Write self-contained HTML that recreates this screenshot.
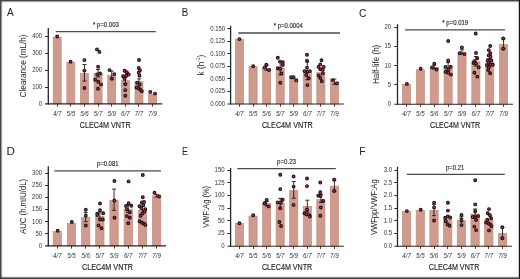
<!DOCTYPE html>
<html><head><meta charset="utf-8"><style>
html,body{margin:0;padding:0;background:#fff;}
body{width:520px;height:279px;overflow:hidden;position:relative;}
.b{position:absolute;}
svg{display:block;will-change:transform;filter:blur(0.25px);}
text{font-family:"Liberation Sans", sans-serif;fill:#222222;}
.tl{fill:#333;}
.sg{stroke:#222;stroke-width:0.12;}
.xt{stroke:#1e1e1e;stroke-width:0.14;}
circle{fill:#d83452;stroke:#1a1414;stroke-width:1.15;}
</style></head><body>
<svg width="520" height="279" viewBox="0 0 520 279">
<rect x="0" y="0" width="520" height="279" fill="#fff"/>
<rect x="53.2" y="37.15" width="8" height="66.75" fill="rgb(207,155,142)" stroke="rgb(197,140,125)" stroke-width="0.7"/>
<rect x="66.83" y="62.25" width="8" height="41.65" fill="rgb(207,155,142)" stroke="rgb(197,140,125)" stroke-width="0.7"/>
<rect x="80.46" y="73.55" width="8" height="30.35" fill="rgb(207,155,142)" stroke="rgb(197,140,125)" stroke-width="0.7"/>
<rect x="94.09" y="73.15" width="8" height="30.75" fill="rgb(207,155,142)" stroke="rgb(197,140,125)" stroke-width="0.7"/>
<rect x="107.72" y="75.45" width="8" height="28.45" fill="rgb(207,155,142)" stroke="rgb(197,140,125)" stroke-width="0.7"/>
<rect x="121.35" y="80.55" width="8" height="23.35" fill="rgb(207,155,142)" stroke="rgb(197,140,125)" stroke-width="0.7"/>
<rect x="134.98" y="81.65" width="8" height="22.25" fill="rgb(207,155,142)" stroke="rgb(197,140,125)" stroke-width="0.7"/>
<rect x="148.61" y="94.15" width="8" height="9.75" fill="rgb(207,155,142)" stroke="rgb(197,140,125)" stroke-width="0.7"/>
<path d="M84.46 64.5V81.1M82.46 64.5H86.46M82.46 81.1H86.46" stroke="#1a1a1a" stroke-width="0.9" fill="none"/>
<path d="M98.09 69.5V77M96.09 69.5H100.09M96.09 77H100.09" stroke="#1a1a1a" stroke-width="0.9" fill="none"/>
<path d="M111.72 71V79M109.72 71H113.72M109.72 79H113.72" stroke="#1a1a1a" stroke-width="0.9" fill="none"/>
<path d="M125.35 77V83.5M123.35 77H127.35M123.35 83.5H127.35" stroke="#1a1a1a" stroke-width="0.9" fill="none"/>
<path d="M138.98 78.9V84M136.98 78.9H140.98M136.98 84H140.98" stroke="#1a1a1a" stroke-width="0.9" fill="none"/>
<circle cx="57.2" cy="36.5" r="1.36"/>
<circle cx="70.6" cy="61.7" r="1.36"/>
<circle cx="84.4" cy="60.1" r="1.36"/>
<circle cx="84.4" cy="70.6" r="1.36"/>
<circle cx="84.4" cy="88" r="1.36"/>
<circle cx="97" cy="49.4" r="1.36"/>
<circle cx="99.4" cy="51.9" r="1.36"/>
<circle cx="98.1" cy="66.8" r="1.36"/>
<circle cx="97.3" cy="74.4" r="1.36"/>
<circle cx="100.1" cy="73.5" r="1.36"/>
<circle cx="95.1" cy="79.8" r="1.36"/>
<circle cx="98.2" cy="81.7" r="1.36"/>
<circle cx="101" cy="84.4" r="1.36"/>
<circle cx="98" cy="88.8" r="1.36"/>
<circle cx="109.5" cy="70.1" r="1.36"/>
<circle cx="114.3" cy="74.1" r="1.36"/>
<circle cx="111.9" cy="78.8" r="1.36"/>
<circle cx="124.6" cy="70.7" r="1.36"/>
<circle cx="126.8" cy="72.3" r="1.36"/>
<circle cx="128.7" cy="74.5" r="1.36"/>
<circle cx="123.1" cy="76.3" r="1.36"/>
<circle cx="126.2" cy="75.7" r="1.36"/>
<circle cx="124.6" cy="78.9" r="1.36"/>
<circle cx="125.3" cy="84.3" r="1.36"/>
<circle cx="125.3" cy="90.1" r="1.36"/>
<circle cx="125.3" cy="95.7" r="1.36"/>
<circle cx="139" cy="60" r="1.36"/>
<circle cx="138.7" cy="67.9" r="1.36"/>
<circle cx="139.9" cy="70.3" r="1.36"/>
<circle cx="138.7" cy="72.6" r="1.36"/>
<circle cx="139.5" cy="75.8" r="1.36"/>
<circle cx="137.2" cy="82.6" r="1.36"/>
<circle cx="139.7" cy="84.5" r="1.36"/>
<circle cx="136.5" cy="87.5" r="1.36"/>
<circle cx="138.7" cy="88.2" r="1.36"/>
<circle cx="140.3" cy="89.8" r="1.36"/>
<circle cx="141.8" cy="91.3" r="1.36"/>
<circle cx="150.3" cy="91.9" r="1.36"/>
<circle cx="155" cy="93.6" r="1.36"/>
<path d="M48.3 28V104.4" stroke="#262626" stroke-width="1.3" fill="none"/>
<path d="M45.1 103.9H162.3" stroke="#262626" stroke-width="1.1" fill="none"/>
<path d="M45.1 87.5H48.3M45.1 70.5H48.3M45.1 53.5H48.3M45.1 36.5H48.3" stroke="#262626" stroke-width="1" fill="none"/>
<path d="M57.5 103.9V106.6M70.5 103.9V106.6M84.5 103.9V106.6M98.5 103.9V106.6M111.5 103.9V106.6M125.5 103.9V106.6M138.5 103.9V106.6M152.5 103.9V106.6" stroke="#3a3a3a" stroke-width="1" fill="none"/>
<text x="42.2" y="105.75" text-anchor="end" font-size="6.6" class="tl" textLength="3.34" lengthAdjust="spacingAndGlyphs">0</text>
<text x="42.2" y="88.88" text-anchor="end" font-size="6.6" class="tl" textLength="10.02" lengthAdjust="spacingAndGlyphs">100</text>
<text x="42.2" y="72" text-anchor="end" font-size="6.6" class="tl" textLength="10.02" lengthAdjust="spacingAndGlyphs">200</text>
<text x="42.2" y="55.13" text-anchor="end" font-size="6.6" class="tl" textLength="10.02" lengthAdjust="spacingAndGlyphs">300</text>
<text x="42.2" y="38.25" text-anchor="end" font-size="6.6" class="tl" textLength="10.02" lengthAdjust="spacingAndGlyphs">400</text>
<text x="57.2" y="115.6" text-anchor="middle" font-size="6.9" class="tl" font-style="italic" textLength="8.6" lengthAdjust="spacingAndGlyphs">4/7</text>
<text x="70.83" y="115.6" text-anchor="middle" font-size="6.9" class="tl" font-style="italic" textLength="8.6" lengthAdjust="spacingAndGlyphs">5/5</text>
<text x="84.46" y="115.6" text-anchor="middle" font-size="6.9" class="tl" font-style="italic" textLength="8.6" lengthAdjust="spacingAndGlyphs">5/6</text>
<text x="98.09" y="115.6" text-anchor="middle" font-size="6.9" class="tl" font-style="italic" textLength="8.6" lengthAdjust="spacingAndGlyphs">5/7</text>
<text x="111.72" y="115.6" text-anchor="middle" font-size="6.9" class="tl" font-style="italic" textLength="8.6" lengthAdjust="spacingAndGlyphs">5/9</text>
<text x="125.35" y="115.6" text-anchor="middle" font-size="6.9" class="tl" font-style="italic" textLength="8.6" lengthAdjust="spacingAndGlyphs">6/7</text>
<text x="138.98" y="115.6" text-anchor="middle" font-size="6.9" class="tl" font-style="italic" textLength="8.6" lengthAdjust="spacingAndGlyphs">7/7</text>
<text x="152.61" y="115.6" text-anchor="middle" font-size="6.9" class="tl" font-style="italic" textLength="8.6" lengthAdjust="spacingAndGlyphs">7/9</text>
<path d="M55.7 31.6H155.8" stroke="#4a4a4a" stroke-width="1.3" fill="none"/>
<text x="93.1" y="26.9" font-size="6.3" class="sg" textLength="25.7" lengthAdjust="spacingAndGlyphs">* p=0.003</text>
<text x="79.8" y="127.7" font-size="8.8" class="xt" textLength="50.8" lengthAdjust="spacingAndGlyphs">CLEC4M VNTR</text>
<text transform="translate(26.1 65.95) rotate(-90)" x="-31.5" font-size="8.2" textLength="63" lengthAdjust="spacingAndGlyphs">Clearance (mL/h)</text>
<text transform="translate(10.35 16.45) scale(0.85 1)" text-anchor="middle" font-size="11.7">A</text>
<rect x="235.45" y="39.25" width="8.1" height="64.75" fill="rgb(207,155,142)" stroke="rgb(197,140,125)" stroke-width="0.7"/>
<rect x="249.01" y="66.45" width="8.1" height="37.55" fill="rgb(207,155,142)" stroke="rgb(197,140,125)" stroke-width="0.7"/>
<rect x="262.57" y="68.25" width="8.1" height="35.75" fill="rgb(207,155,142)" stroke="rgb(197,140,125)" stroke-width="0.7"/>
<rect x="276.13" y="67.95" width="8.1" height="36.05" fill="rgb(207,155,142)" stroke="rgb(197,140,125)" stroke-width="0.7"/>
<rect x="289.69" y="78.85" width="8.1" height="25.15" fill="rgb(207,155,142)" stroke="rgb(197,140,125)" stroke-width="0.7"/>
<rect x="303.25" y="71.85" width="8.1" height="32.15" fill="rgb(207,155,142)" stroke="rgb(197,140,125)" stroke-width="0.7"/>
<rect x="316.81" y="72.25" width="8.1" height="31.75" fill="rgb(207,155,142)" stroke="rgb(197,140,125)" stroke-width="0.7"/>
<rect x="330.37" y="81.95" width="8.1" height="22.05" fill="rgb(207,155,142)" stroke="rgb(197,140,125)" stroke-width="0.7"/>
<path d="M266.62 65.2V70.3M264.62 65.2H268.62M264.62 70.3H268.62" stroke="#1a1a1a" stroke-width="0.9" fill="none"/>
<path d="M280.18 62V74.8M278.18 62H282.18M278.18 74.8H282.18" stroke="#1a1a1a" stroke-width="0.9" fill="none"/>
<path d="M307.3 62V79.8M305.3 62H309.3M305.3 79.8H309.3" stroke="#1a1a1a" stroke-width="0.9" fill="none"/>
<path d="M334.42 79V84.3M332.42 79H336.42M332.42 84.3H336.42" stroke="#1a1a1a" stroke-width="0.9" fill="none"/>
<circle cx="239.4" cy="39.1" r="1.36"/>
<circle cx="253.2" cy="66.3" r="1.36"/>
<circle cx="264.5" cy="67.6" r="1.36"/>
<circle cx="266.3" cy="64.8" r="1.36"/>
<circle cx="269.1" cy="70.1" r="1.36"/>
<circle cx="277.8" cy="57.8" r="1.36"/>
<circle cx="280" cy="61.6" r="1.36"/>
<circle cx="282.8" cy="62.3" r="1.36"/>
<circle cx="282.8" cy="65.1" r="1.36"/>
<circle cx="277.8" cy="68.2" r="1.36"/>
<circle cx="280.3" cy="68.8" r="1.36"/>
<circle cx="281.5" cy="73.5" r="1.36"/>
<circle cx="280.3" cy="82.8" r="1.36"/>
<circle cx="291.1" cy="77.3" r="1.36"/>
<circle cx="293.6" cy="77.3" r="1.36"/>
<circle cx="296.3" cy="80.4" r="1.36"/>
<circle cx="307" cy="54.8" r="1.36"/>
<circle cx="307" cy="60.7" r="1.36"/>
<circle cx="307" cy="67.6" r="1.36"/>
<circle cx="304.5" cy="71.1" r="1.36"/>
<circle cx="307.4" cy="71.6" r="1.36"/>
<circle cx="309.9" cy="71.1" r="1.36"/>
<circle cx="306.2" cy="75" r="1.36"/>
<circle cx="308.7" cy="78.2" r="1.36"/>
<circle cx="307.4" cy="85.1" r="1.36"/>
<circle cx="321.5" cy="60.3" r="1.36"/>
<circle cx="320.3" cy="64.4" r="1.36"/>
<circle cx="318.5" cy="66.9" r="1.36"/>
<circle cx="323.7" cy="66.9" r="1.36"/>
<circle cx="320.3" cy="69.2" r="1.36"/>
<circle cx="322.8" cy="69.9" r="1.36"/>
<circle cx="322.8" cy="73.4" r="1.36"/>
<circle cx="318.7" cy="75.5" r="1.36"/>
<circle cx="320.3" cy="78" r="1.36"/>
<circle cx="321.8" cy="81.3" r="1.36"/>
<circle cx="332.3" cy="80.1" r="1.36"/>
<circle cx="336.9" cy="83.4" r="1.36"/>
<path d="M230.6 25.7V104.5" stroke="#262626" stroke-width="1.3" fill="none"/>
<path d="M227.4 104H343.9" stroke="#262626" stroke-width="1.1" fill="none"/>
<path d="M227.4 91.5H230.6M227.4 78.5H230.6M227.4 66.5H230.6M227.4 53.5H230.6M227.4 41.5H230.6M227.4 28.5H230.6" stroke="#262626" stroke-width="1" fill="none"/>
<path d="M239.5 104V106.7M253.5 104V106.7M266.5 104V106.7M280.5 104V106.7M293.5 104V106.7M307.5 104V106.7M320.5 104V106.7M334.5 104V106.7" stroke="#3a3a3a" stroke-width="1" fill="none"/>
<text x="225.2" y="105.85" text-anchor="end" font-size="6.6" class="tl" textLength="15.03" lengthAdjust="spacingAndGlyphs">0.000</text>
<text x="225.2" y="93.33" text-anchor="end" font-size="6.6" class="tl" textLength="15.03" lengthAdjust="spacingAndGlyphs">0.025</text>
<text x="225.2" y="80.82" text-anchor="end" font-size="6.6" class="tl" textLength="15.03" lengthAdjust="spacingAndGlyphs">0.050</text>
<text x="225.2" y="68.3" text-anchor="end" font-size="6.6" class="tl" textLength="15.03" lengthAdjust="spacingAndGlyphs">0.075</text>
<text x="225.2" y="55.78" text-anchor="end" font-size="6.6" class="tl" textLength="15.03" lengthAdjust="spacingAndGlyphs">0.100</text>
<text x="225.2" y="43.27" text-anchor="end" font-size="6.6" class="tl" textLength="15.03" lengthAdjust="spacingAndGlyphs">0.125</text>
<text x="225.2" y="30.75" text-anchor="end" font-size="6.6" class="tl" textLength="15.03" lengthAdjust="spacingAndGlyphs">0.150</text>
<text x="239.5" y="116" text-anchor="middle" font-size="6.9" class="tl" font-style="italic" textLength="8.6" lengthAdjust="spacingAndGlyphs">4/7</text>
<text x="253.06" y="116" text-anchor="middle" font-size="6.9" class="tl" font-style="italic" textLength="8.6" lengthAdjust="spacingAndGlyphs">5/5</text>
<text x="266.62" y="116" text-anchor="middle" font-size="6.9" class="tl" font-style="italic" textLength="8.6" lengthAdjust="spacingAndGlyphs">5/6</text>
<text x="280.18" y="116" text-anchor="middle" font-size="6.9" class="tl" font-style="italic" textLength="8.6" lengthAdjust="spacingAndGlyphs">5/7</text>
<text x="293.74" y="116" text-anchor="middle" font-size="6.9" class="tl" font-style="italic" textLength="8.6" lengthAdjust="spacingAndGlyphs">5/9</text>
<text x="307.3" y="116" text-anchor="middle" font-size="6.9" class="tl" font-style="italic" textLength="8.6" lengthAdjust="spacingAndGlyphs">6/7</text>
<text x="320.86" y="116" text-anchor="middle" font-size="6.9" class="tl" font-style="italic" textLength="8.6" lengthAdjust="spacingAndGlyphs">7/7</text>
<text x="334.42" y="116" text-anchor="middle" font-size="6.9" class="tl" font-style="italic" textLength="8.6" lengthAdjust="spacingAndGlyphs">7/9</text>
<path d="M238.3 33H340" stroke="#4a4a4a" stroke-width="1.3" fill="none"/>
<text x="273.8" y="28.1" font-size="6.3" class="sg" textLength="29" lengthAdjust="spacingAndGlyphs">* p=0.0004</text>
<text x="261.9" y="127.5" font-size="8.8" class="xt" textLength="50.85" lengthAdjust="spacingAndGlyphs">CLEC4M VNTR</text>
<text transform="translate(203.6 65.1) rotate(-90)" text-anchor="middle" font-size="8.2">k (h<tspan font-size="4.8" dy="-3.3">-1</tspan><tspan dy="3.3">)</tspan></text>
<text transform="translate(184.95 16.45) scale(0.84 1)" text-anchor="middle" font-size="11.7">B</text>
<rect x="402.45" y="84.45" width="8.1" height="19.75" fill="rgb(207,155,142)" stroke="rgb(197,140,125)" stroke-width="0.7"/>
<rect x="416.32" y="69.75" width="8.1" height="34.45" fill="rgb(207,155,142)" stroke="rgb(197,140,125)" stroke-width="0.7"/>
<rect x="430.19" y="67.35" width="8.1" height="36.85" fill="rgb(207,155,142)" stroke="rgb(197,140,125)" stroke-width="0.7"/>
<rect x="444.06" y="66.85" width="8.1" height="37.35" fill="rgb(207,155,142)" stroke="rgb(197,140,125)" stroke-width="0.7"/>
<rect x="457.93" y="52.25" width="8.1" height="51.95" fill="rgb(207,155,142)" stroke="rgb(197,140,125)" stroke-width="0.7"/>
<rect x="471.8" y="61.85" width="8.1" height="42.35" fill="rgb(207,155,142)" stroke="rgb(197,140,125)" stroke-width="0.7"/>
<rect x="485.67" y="62.25" width="8.1" height="41.95" fill="rgb(207,155,142)" stroke="rgb(197,140,125)" stroke-width="0.7"/>
<rect x="499.54" y="44.65" width="8.1" height="59.55" fill="rgb(207,155,142)" stroke="rgb(197,140,125)" stroke-width="0.7"/>
<path d="M434.24 65.1V69M432.24 65.1H436.24M432.24 69H436.24" stroke="#1a1a1a" stroke-width="0.9" fill="none"/>
<path d="M448.11 62.6V70M446.11 62.6H450.11M446.11 70H450.11" stroke="#1a1a1a" stroke-width="0.9" fill="none"/>
<path d="M461.98 49.8V54M459.98 49.8H463.98M459.98 54H463.98" stroke="#1a1a1a" stroke-width="0.9" fill="none"/>
<path d="M475.85 56.5V66M473.85 56.5H477.85M473.85 66H477.85" stroke="#1a1a1a" stroke-width="0.9" fill="none"/>
<path d="M489.72 58.5V65M487.72 58.5H491.72M487.72 65H491.72" stroke="#1a1a1a" stroke-width="0.9" fill="none"/>
<path d="M503.59 38.5V48.8M501.59 38.5H505.59M501.59 48.8H505.59" stroke="#1a1a1a" stroke-width="0.9" fill="none"/>
<circle cx="406.9" cy="83.9" r="1.36"/>
<circle cx="420.7" cy="68.8" r="1.36"/>
<circle cx="434.3" cy="63.8" r="1.36"/>
<circle cx="432" cy="67.4" r="1.36"/>
<circle cx="436.5" cy="69.5" r="1.36"/>
<circle cx="448.2" cy="41" r="1.36"/>
<circle cx="448.2" cy="60.4" r="1.36"/>
<circle cx="445.5" cy="66.9" r="1.36"/>
<circle cx="450.7" cy="66.8" r="1.36"/>
<circle cx="448.2" cy="69.6" r="1.36"/>
<circle cx="445.5" cy="71.9" r="1.36"/>
<circle cx="448.2" cy="72.8" r="1.36"/>
<circle cx="451" cy="74.6" r="1.36"/>
<circle cx="461.9" cy="47.4" r="1.36"/>
<circle cx="459.8" cy="53.2" r="1.36"/>
<circle cx="464.4" cy="54.1" r="1.36"/>
<circle cx="475.7" cy="33.5" r="1.36"/>
<circle cx="476" cy="52.9" r="1.36"/>
<circle cx="477.3" cy="58.2" r="1.36"/>
<circle cx="474.4" cy="61.1" r="1.36"/>
<circle cx="473.6" cy="63" r="1.36"/>
<circle cx="476" cy="63.6" r="1.36"/>
<circle cx="478.7" cy="67.3" r="1.36"/>
<circle cx="474.4" cy="72.8" r="1.36"/>
<circle cx="477.3" cy="76.6" r="1.36"/>
<circle cx="490.2" cy="46" r="1.36"/>
<circle cx="488.8" cy="50.1" r="1.36"/>
<circle cx="490.3" cy="53.2" r="1.36"/>
<circle cx="488.7" cy="55.4" r="1.36"/>
<circle cx="490.5" cy="56.6" r="1.36"/>
<circle cx="487.7" cy="60.2" r="1.36"/>
<circle cx="491.4" cy="60.5" r="1.36"/>
<circle cx="488.9" cy="62.6" r="1.36"/>
<circle cx="487" cy="65.3" r="1.36"/>
<circle cx="490.7" cy="64.8" r="1.36"/>
<circle cx="492.9" cy="64.8" r="1.36"/>
<circle cx="488.8" cy="67.6" r="1.36"/>
<circle cx="488.2" cy="70.1" r="1.36"/>
<circle cx="490.1" cy="73.2" r="1.36"/>
<circle cx="503.2" cy="38.5" r="1.36"/>
<circle cx="503.2" cy="48.8" r="1.36"/>
<path d="M397.5 24.1V104.7" stroke="#262626" stroke-width="1.3" fill="none"/>
<path d="M394.3 104.2H512.9" stroke="#262626" stroke-width="1.1" fill="none"/>
<path d="M394.3 84.5H397.5M394.3 65.5H397.5M394.3 46.5H397.5M394.3 27.5H397.5" stroke="#262626" stroke-width="1" fill="none"/>
<path d="M406.5 104.2V106.9M420.5 104.2V106.9M434.5 104.2V106.9M448.5 104.2V106.9M461.5 104.2V106.9M475.5 104.2V106.9M489.5 104.2V106.9M503.5 104.2V106.9" stroke="#3a3a3a" stroke-width="1" fill="none"/>
<text x="391.2" y="106.05" text-anchor="end" font-size="6.6" class="tl" textLength="3.34" lengthAdjust="spacingAndGlyphs">0</text>
<text x="391.2" y="86.83" text-anchor="end" font-size="6.6" class="tl" textLength="3.34" lengthAdjust="spacingAndGlyphs">5</text>
<text x="391.2" y="67.61" text-anchor="end" font-size="6.6" class="tl" textLength="6.68" lengthAdjust="spacingAndGlyphs">10</text>
<text x="391.2" y="48.39" text-anchor="end" font-size="6.6" class="tl" textLength="6.68" lengthAdjust="spacingAndGlyphs">15</text>
<text x="391.2" y="29.17" text-anchor="end" font-size="6.6" class="tl" textLength="6.68" lengthAdjust="spacingAndGlyphs">20</text>
<text x="406.5" y="115.6" text-anchor="middle" font-size="6.9" class="tl" font-style="italic" textLength="8.6" lengthAdjust="spacingAndGlyphs">4/7</text>
<text x="420.37" y="115.6" text-anchor="middle" font-size="6.9" class="tl" font-style="italic" textLength="8.6" lengthAdjust="spacingAndGlyphs">5/5</text>
<text x="434.24" y="115.6" text-anchor="middle" font-size="6.9" class="tl" font-style="italic" textLength="8.6" lengthAdjust="spacingAndGlyphs">5/6</text>
<text x="448.11" y="115.6" text-anchor="middle" font-size="6.9" class="tl" font-style="italic" textLength="8.6" lengthAdjust="spacingAndGlyphs">5/7</text>
<text x="461.98" y="115.6" text-anchor="middle" font-size="6.9" class="tl" font-style="italic" textLength="8.6" lengthAdjust="spacingAndGlyphs">5/9</text>
<text x="475.85" y="115.6" text-anchor="middle" font-size="6.9" class="tl" font-style="italic" textLength="8.6" lengthAdjust="spacingAndGlyphs">6/7</text>
<text x="489.72" y="115.6" text-anchor="middle" font-size="6.9" class="tl" font-style="italic" textLength="8.6" lengthAdjust="spacingAndGlyphs">7/7</text>
<text x="503.59" y="115.6" text-anchor="middle" font-size="6.9" class="tl" font-style="italic" textLength="8.6" lengthAdjust="spacingAndGlyphs">7/9</text>
<path d="M405.1 29.8H505.2" stroke="#4a4a4a" stroke-width="1.3" fill="none"/>
<text x="442.3" y="24.7" font-size="6.3" class="sg" textLength="25.9" lengthAdjust="spacingAndGlyphs">* p=0.019</text>
<text x="430" y="127.5" font-size="8.8" class="xt" textLength="50.25" lengthAdjust="spacingAndGlyphs">CLEC4M VNTR</text>
<text transform="translate(379.3 64.4) rotate(-90)" x="-19.7" font-size="8.2" textLength="39.4" lengthAdjust="spacingAndGlyphs">Half-life (h)</text>
<text transform="translate(362.75 16.5) scale(0.88 1)" text-anchor="middle" font-size="11.7">C</text>
<rect x="53.15" y="231.45" width="8.3" height="14.45" fill="rgb(207,155,142)" stroke="rgb(197,140,125)" stroke-width="0.7"/>
<rect x="67.34" y="223.25" width="8.3" height="22.65" fill="rgb(207,155,142)" stroke="rgb(197,140,125)" stroke-width="0.7"/>
<rect x="81.53" y="217.65" width="8.3" height="28.25" fill="rgb(207,155,142)" stroke="rgb(197,140,125)" stroke-width="0.7"/>
<rect x="95.72" y="216.45" width="8.3" height="29.45" fill="rgb(207,155,142)" stroke="rgb(197,140,125)" stroke-width="0.7"/>
<rect x="109.91" y="200.35" width="8.3" height="45.55" fill="rgb(207,155,142)" stroke="rgb(197,140,125)" stroke-width="0.7"/>
<rect x="124.1" y="209.15" width="8.3" height="36.75" fill="rgb(207,155,142)" stroke="rgb(197,140,125)" stroke-width="0.7"/>
<rect x="138.29" y="210.15" width="8.3" height="35.75" fill="rgb(207,155,142)" stroke="rgb(197,140,125)" stroke-width="0.7"/>
<rect x="152.48" y="195.85" width="8.3" height="50.05" fill="rgb(207,155,142)" stroke="rgb(197,140,125)" stroke-width="0.7"/>
<path d="M85.68 212.6V221.6M83.68 212.6H87.68M83.68 221.6H87.68" stroke="#1a1a1a" stroke-width="0.9" fill="none"/>
<path d="M99.87 212V219M97.87 212H101.87M97.87 219H101.87" stroke="#1a1a1a" stroke-width="0.9" fill="none"/>
<path d="M114.06 189.1V210.3M112.06 189.1H116.06M112.06 210.3H116.06" stroke="#1a1a1a" stroke-width="0.9" fill="none"/>
<path d="M128.25 205V212.5M126.25 205H130.25M126.25 212.5H130.25" stroke="#1a1a1a" stroke-width="0.9" fill="none"/>
<path d="M142.44 206.5V213M140.44 206.5H144.44M140.44 213H144.44" stroke="#1a1a1a" stroke-width="0.9" fill="none"/>
<path d="M156.63 194.4V197M154.63 194.4H158.63M154.63 197H158.63" stroke="#1a1a1a" stroke-width="0.9" fill="none"/>
<circle cx="57.7" cy="230.8" r="1.36"/>
<circle cx="71.8" cy="222" r="1.36"/>
<circle cx="85.8" cy="209.8" r="1.36"/>
<circle cx="85.8" cy="215.7" r="1.36"/>
<circle cx="85.8" cy="225.5" r="1.36"/>
<circle cx="100" cy="203.5" r="1.36"/>
<circle cx="100" cy="210.1" r="1.36"/>
<circle cx="97.3" cy="213.6" r="1.36"/>
<circle cx="103.2" cy="213.2" r="1.36"/>
<circle cx="97.3" cy="215.1" r="1.36"/>
<circle cx="100" cy="219.5" r="1.36"/>
<circle cx="102.8" cy="219.5" r="1.36"/>
<circle cx="98.5" cy="225.4" r="1.36"/>
<circle cx="101.5" cy="228.2" r="1.36"/>
<circle cx="114.4" cy="181" r="1.36"/>
<circle cx="114.4" cy="200.5" r="1.36"/>
<circle cx="114.5" cy="217.8" r="1.36"/>
<circle cx="128.6" cy="181.4" r="1.36"/>
<circle cx="128.6" cy="203.2" r="1.36"/>
<circle cx="126" cy="206" r="1.36"/>
<circle cx="131.3" cy="205.7" r="1.36"/>
<circle cx="126.9" cy="209.4" r="1.36"/>
<circle cx="129.8" cy="212.3" r="1.36"/>
<circle cx="126.9" cy="216.1" r="1.36"/>
<circle cx="129.8" cy="217.8" r="1.36"/>
<circle cx="128.2" cy="223.2" r="1.36"/>
<circle cx="142.8" cy="175" r="1.36"/>
<circle cx="142.8" cy="197.2" r="1.36"/>
<circle cx="141.8" cy="202.5" r="1.36"/>
<circle cx="144.1" cy="201.9" r="1.36"/>
<circle cx="143.3" cy="205.1" r="1.36"/>
<circle cx="139.5" cy="206.2" r="1.36"/>
<circle cx="141.5" cy="208.2" r="1.36"/>
<circle cx="145.3" cy="209.2" r="1.36"/>
<circle cx="144.4" cy="211.4" r="1.36"/>
<circle cx="142.6" cy="213.4" r="1.36"/>
<circle cx="140.7" cy="215.7" r="1.36"/>
<circle cx="139.6" cy="221.3" r="1.36"/>
<circle cx="141.9" cy="222.7" r="1.36"/>
<circle cx="144.1" cy="223.7" r="1.36"/>
<circle cx="145.4" cy="224.9" r="1.36"/>
<circle cx="154.5" cy="192.8" r="1.36"/>
<circle cx="159.1" cy="196.5" r="1.36"/>
<path d="M48.3 166.2V246.4" stroke="#262626" stroke-width="1.3" fill="none"/>
<path d="M45.1 245.9H166.1" stroke="#262626" stroke-width="1.1" fill="none"/>
<path d="M45.1 233.5H48.3M45.1 221.5H48.3M45.1 209.5H48.3M45.1 197.5H48.3M45.1 185.5H48.3M45.1 173.5H48.3" stroke="#262626" stroke-width="1" fill="none"/>
<path d="M57.5 245.9V248.6M71.5 245.9V248.6M85.5 245.9V248.6M99.5 245.9V248.6M114.5 245.9V248.6M128.5 245.9V248.6M142.5 245.9V248.6M156.5 245.9V248.6" stroke="#3a3a3a" stroke-width="1" fill="none"/>
<text x="42.1" y="247.75" text-anchor="end" font-size="6.6" class="tl" textLength="3.34" lengthAdjust="spacingAndGlyphs">0</text>
<text x="42.1" y="235.65" text-anchor="end" font-size="6.6" class="tl" textLength="6.68" lengthAdjust="spacingAndGlyphs">50</text>
<text x="42.1" y="223.55" text-anchor="end" font-size="6.6" class="tl" textLength="10.02" lengthAdjust="spacingAndGlyphs">100</text>
<text x="42.1" y="211.45" text-anchor="end" font-size="6.6" class="tl" textLength="10.02" lengthAdjust="spacingAndGlyphs">150</text>
<text x="42.1" y="199.35" text-anchor="end" font-size="6.6" class="tl" textLength="10.02" lengthAdjust="spacingAndGlyphs">200</text>
<text x="42.1" y="187.25" text-anchor="end" font-size="6.6" class="tl" textLength="10.02" lengthAdjust="spacingAndGlyphs">250</text>
<text x="42.1" y="175.15" text-anchor="end" font-size="6.6" class="tl" textLength="10.02" lengthAdjust="spacingAndGlyphs">300</text>
<text x="57.3" y="258" text-anchor="middle" font-size="6.9" class="tl" font-style="italic" textLength="8.6" lengthAdjust="spacingAndGlyphs">4/7</text>
<text x="71.49" y="258" text-anchor="middle" font-size="6.9" class="tl" font-style="italic" textLength="8.6" lengthAdjust="spacingAndGlyphs">5/5</text>
<text x="85.68" y="258" text-anchor="middle" font-size="6.9" class="tl" font-style="italic" textLength="8.6" lengthAdjust="spacingAndGlyphs">5/6</text>
<text x="99.87" y="258" text-anchor="middle" font-size="6.9" class="tl" font-style="italic" textLength="8.6" lengthAdjust="spacingAndGlyphs">5/7</text>
<text x="114.06" y="258" text-anchor="middle" font-size="6.9" class="tl" font-style="italic" textLength="8.6" lengthAdjust="spacingAndGlyphs">5/9</text>
<text x="128.25" y="258" text-anchor="middle" font-size="6.9" class="tl" font-style="italic" textLength="8.6" lengthAdjust="spacingAndGlyphs">6/7</text>
<text x="142.44" y="258" text-anchor="middle" font-size="6.9" class="tl" font-style="italic" textLength="8.6" lengthAdjust="spacingAndGlyphs">7/7</text>
<text x="156.63" y="258" text-anchor="middle" font-size="6.9" class="tl" font-style="italic" textLength="8.6" lengthAdjust="spacingAndGlyphs">7/9</text>
<path d="M54.4 170.8H160.9" stroke="#4a4a4a" stroke-width="1.3" fill="none"/>
<text x="96.9" y="165.8" font-size="6.3" class="sg" textLength="21.6" lengthAdjust="spacingAndGlyphs">p=0.081</text>
<text x="81.9" y="269.5" font-size="8.8" class="xt" textLength="51.2" lengthAdjust="spacingAndGlyphs">CLEC4M VNTR</text>
<text transform="translate(25.9 206.4) rotate(-90)" x="-27.6" font-size="8.2" textLength="55.2" lengthAdjust="spacingAndGlyphs">AUC (h.mIU/dL)</text>
<text transform="translate(10.6 155) scale(1.0 1)" text-anchor="middle" font-size="11.7">D</text>
<rect x="235.45" y="223.55" width="8.1" height="22.65" fill="rgb(207,155,142)" stroke="rgb(197,140,125)" stroke-width="0.7"/>
<rect x="249.01" y="216.05" width="8.1" height="30.15" fill="rgb(207,155,142)" stroke="rgb(197,140,125)" stroke-width="0.7"/>
<rect x="262.57" y="203.55" width="8.1" height="42.65" fill="rgb(207,155,142)" stroke="rgb(197,140,125)" stroke-width="0.7"/>
<rect x="276.13" y="203.15" width="8.1" height="43.05" fill="rgb(207,155,142)" stroke="rgb(197,140,125)" stroke-width="0.7"/>
<rect x="289.69" y="190.45" width="8.1" height="55.75" fill="rgb(207,155,142)" stroke="rgb(197,140,125)" stroke-width="0.7"/>
<rect x="303.25" y="206.35" width="8.1" height="39.85" fill="rgb(207,155,142)" stroke="rgb(197,140,125)" stroke-width="0.7"/>
<rect x="316.81" y="199.65" width="8.1" height="46.55" fill="rgb(207,155,142)" stroke="rgb(197,140,125)" stroke-width="0.7"/>
<rect x="330.37" y="186.15" width="8.1" height="60.05" fill="rgb(207,155,142)" stroke="rgb(197,140,125)" stroke-width="0.7"/>
<path d="M266.62 201.5V206M264.62 201.5H268.62M264.62 206H268.62" stroke="#1a1a1a" stroke-width="0.9" fill="none"/>
<path d="M280.18 198.3V208M278.18 198.3H282.18M278.18 208H282.18" stroke="#1a1a1a" stroke-width="0.9" fill="none"/>
<path d="M293.74 181.5V198.2M291.74 181.5H295.74M291.74 198.2H295.74" stroke="#1a1a1a" stroke-width="0.9" fill="none"/>
<path d="M307.3 200.2V212M305.3 200.2H309.3M305.3 212H309.3" stroke="#1a1a1a" stroke-width="0.9" fill="none"/>
<path d="M320.86 194.5V202.5M318.86 194.5H322.86M318.86 202.5H322.86" stroke="#1a1a1a" stroke-width="0.9" fill="none"/>
<path d="M334.42 179.8V191M332.42 179.8H336.42M332.42 191H336.42" stroke="#1a1a1a" stroke-width="0.9" fill="none"/>
<circle cx="239.4" cy="223.3" r="1.36"/>
<circle cx="253.2" cy="215.3" r="1.36"/>
<circle cx="266.7" cy="199.9" r="1.36"/>
<circle cx="264.5" cy="203.2" r="1.36"/>
<circle cx="268.7" cy="206.4" r="1.36"/>
<circle cx="280.3" cy="174.8" r="1.36"/>
<circle cx="280.3" cy="189.1" r="1.36"/>
<circle cx="282.7" cy="199.8" r="1.36"/>
<circle cx="277.7" cy="202.4" r="1.36"/>
<circle cx="280.9" cy="202.7" r="1.36"/>
<circle cx="280.2" cy="208.2" r="1.36"/>
<circle cx="279.3" cy="222" r="1.36"/>
<circle cx="281" cy="226" r="1.36"/>
<circle cx="293.6" cy="176.5" r="1.36"/>
<circle cx="293.6" cy="186.6" r="1.36"/>
<circle cx="293.5" cy="204.9" r="1.36"/>
<circle cx="307" cy="178.5" r="1.36"/>
<circle cx="307" cy="186.1" r="1.36"/>
<circle cx="307" cy="209.8" r="1.36"/>
<circle cx="304.5" cy="213.2" r="1.36"/>
<circle cx="306.5" cy="214.4" r="1.36"/>
<circle cx="309.5" cy="215.3" r="1.36"/>
<circle cx="309.9" cy="216.6" r="1.36"/>
<circle cx="320.3" cy="182.5" r="1.36"/>
<circle cx="320.3" cy="192.3" r="1.36"/>
<circle cx="318.3" cy="195.7" r="1.36"/>
<circle cx="320.5" cy="196" r="1.36"/>
<circle cx="323.1" cy="201" r="1.36"/>
<circle cx="320.8" cy="207.5" r="1.36"/>
<circle cx="320.3" cy="215.7" r="1.36"/>
<circle cx="334.2" cy="179.8" r="1.36"/>
<circle cx="334.2" cy="191" r="1.36"/>
<path d="M230.6 167.9V246.7" stroke="#262626" stroke-width="1.3" fill="none"/>
<path d="M227.4 246.2H343.9" stroke="#262626" stroke-width="1.1" fill="none"/>
<path d="M227.4 233.5H230.6M227.4 220.5H230.6M227.4 208.5H230.6M227.4 195.5H230.6M227.4 182.5H230.6M227.4 170.5H230.6" stroke="#262626" stroke-width="1" fill="none"/>
<path d="M239.5 246.2V248.9M253.5 246.2V248.9M266.5 246.2V248.9M280.5 246.2V248.9M293.5 246.2V248.9M307.5 246.2V248.9M320.5 246.2V248.9M334.5 246.2V248.9" stroke="#3a3a3a" stroke-width="1" fill="none"/>
<text x="224.6" y="248.05" text-anchor="end" font-size="6.6" class="tl" textLength="3.34" lengthAdjust="spacingAndGlyphs">0</text>
<text x="224.6" y="235.4" text-anchor="end" font-size="6.6" class="tl" textLength="6.68" lengthAdjust="spacingAndGlyphs">25</text>
<text x="224.6" y="222.75" text-anchor="end" font-size="6.6" class="tl" textLength="6.68" lengthAdjust="spacingAndGlyphs">50</text>
<text x="224.6" y="210.1" text-anchor="end" font-size="6.6" class="tl" textLength="6.68" lengthAdjust="spacingAndGlyphs">75</text>
<text x="224.6" y="197.45" text-anchor="end" font-size="6.6" class="tl" textLength="10.02" lengthAdjust="spacingAndGlyphs">100</text>
<text x="224.6" y="184.8" text-anchor="end" font-size="6.6" class="tl" textLength="10.02" lengthAdjust="spacingAndGlyphs">125</text>
<text x="224.6" y="172.15" text-anchor="end" font-size="6.6" class="tl" textLength="10.02" lengthAdjust="spacingAndGlyphs">150</text>
<text x="239.5" y="258.2" text-anchor="middle" font-size="6.9" class="tl" font-style="italic" textLength="8.6" lengthAdjust="spacingAndGlyphs">4/7</text>
<text x="253.06" y="258.2" text-anchor="middle" font-size="6.9" class="tl" font-style="italic" textLength="8.6" lengthAdjust="spacingAndGlyphs">5/5</text>
<text x="266.62" y="258.2" text-anchor="middle" font-size="6.9" class="tl" font-style="italic" textLength="8.6" lengthAdjust="spacingAndGlyphs">5/6</text>
<text x="280.18" y="258.2" text-anchor="middle" font-size="6.9" class="tl" font-style="italic" textLength="8.6" lengthAdjust="spacingAndGlyphs">5/7</text>
<text x="293.74" y="258.2" text-anchor="middle" font-size="6.9" class="tl" font-style="italic" textLength="8.6" lengthAdjust="spacingAndGlyphs">5/9</text>
<text x="307.3" y="258.2" text-anchor="middle" font-size="6.9" class="tl" font-style="italic" textLength="8.6" lengthAdjust="spacingAndGlyphs">6/7</text>
<text x="320.86" y="258.2" text-anchor="middle" font-size="6.9" class="tl" font-style="italic" textLength="8.6" lengthAdjust="spacingAndGlyphs">7/7</text>
<text x="334.42" y="258.2" text-anchor="middle" font-size="6.9" class="tl" font-style="italic" textLength="8.6" lengthAdjust="spacingAndGlyphs">7/9</text>
<path d="M237.3 168.7H335.8" stroke="#4a4a4a" stroke-width="1.3" fill="none"/>
<text x="277.1" y="163.6" font-size="6.3" class="sg" textLength="18.9" lengthAdjust="spacingAndGlyphs">p=0.23</text>
<text x="261.9" y="269.8" font-size="8.8" class="xt" textLength="50.35" lengthAdjust="spacingAndGlyphs">CLEC4M VNTR</text>
<text transform="translate(208.6 206.8) rotate(-90)" x="-20.9" font-size="8.2" textLength="41.8" lengthAdjust="spacingAndGlyphs">VWF:Ag (%)</text>
<text transform="translate(184.9 155) scale(0.76 1)" text-anchor="middle" font-size="11.7">E</text>
<rect x="402.45" y="211.55" width="8.3" height="34.65" fill="rgb(207,155,142)" stroke="rgb(197,140,125)" stroke-width="0.7"/>
<rect x="416.15" y="210.45" width="8.3" height="35.75" fill="rgb(207,155,142)" stroke="rgb(197,140,125)" stroke-width="0.7"/>
<rect x="429.85" y="210.45" width="8.3" height="35.75" fill="rgb(207,155,142)" stroke="rgb(197,140,125)" stroke-width="0.7"/>
<rect x="443.55" y="219.35" width="8.3" height="26.85" fill="rgb(207,155,142)" stroke="rgb(197,140,125)" stroke-width="0.7"/>
<rect x="457.25" y="220.65" width="8.3" height="25.55" fill="rgb(207,155,142)" stroke="rgb(197,140,125)" stroke-width="0.7"/>
<rect x="470.95" y="213.95" width="8.3" height="32.25" fill="rgb(207,155,142)" stroke="rgb(197,140,125)" stroke-width="0.7"/>
<rect x="484.65" y="219.85" width="8.3" height="26.35" fill="rgb(207,155,142)" stroke="rgb(197,140,125)" stroke-width="0.7"/>
<rect x="498.35" y="233.45" width="8.3" height="12.75" fill="rgb(207,155,142)" stroke="rgb(197,140,125)" stroke-width="0.7"/>
<path d="M434 204.4V215.7M432 204.4H436M432 215.7H436" stroke="#1a1a1a" stroke-width="0.9" fill="none"/>
<path d="M461.4 216.9V218.6M459.4 216.9H463.4M459.4 218.6H463.4" stroke="#1a1a1a" stroke-width="0.9" fill="none"/>
<path d="M475.1 209V218M473.1 209H477.1M473.1 218H477.1" stroke="#1a1a1a" stroke-width="0.9" fill="none"/>
<path d="M502.5 227.3V238.2M500.5 227.3H504.5M500.5 238.2H504.5" stroke="#1a1a1a" stroke-width="0.9" fill="none"/>
<circle cx="406.9" cy="211.1" r="1.36"/>
<circle cx="420.7" cy="209.8" r="1.36"/>
<circle cx="434.1" cy="202.6" r="1.36"/>
<circle cx="434.1" cy="207.4" r="1.36"/>
<circle cx="434.1" cy="220.5" r="1.36"/>
<circle cx="447.9" cy="202.8" r="1.36"/>
<circle cx="447.9" cy="210.6" r="1.36"/>
<circle cx="445.2" cy="217.8" r="1.36"/>
<circle cx="447.7" cy="216.5" r="1.36"/>
<circle cx="450.2" cy="217.5" r="1.36"/>
<circle cx="445.8" cy="221.3" r="1.36"/>
<circle cx="447.7" cy="224.4" r="1.36"/>
<circle cx="449.5" cy="225.7" r="1.36"/>
<circle cx="461.5" cy="215" r="1.36"/>
<circle cx="461.5" cy="220.7" r="1.36"/>
<circle cx="461.5" cy="225.1" r="1.36"/>
<circle cx="475.2" cy="180.3" r="1.36"/>
<circle cx="475.2" cy="204.4" r="1.36"/>
<circle cx="475.2" cy="211.3" r="1.36"/>
<circle cx="472.7" cy="216.9" r="1.36"/>
<circle cx="475.2" cy="217.3" r="1.36"/>
<circle cx="478.1" cy="216.1" r="1.36"/>
<circle cx="476.1" cy="220.1" r="1.36"/>
<circle cx="474.3" cy="226.6" r="1.36"/>
<circle cx="476.1" cy="230.1" r="1.36"/>
<circle cx="489" cy="209.1" r="1.36"/>
<circle cx="487.7" cy="213.2" r="1.36"/>
<circle cx="489.9" cy="215.3" r="1.36"/>
<circle cx="491.1" cy="218.2" r="1.36"/>
<circle cx="487.3" cy="219.8" r="1.36"/>
<circle cx="486.1" cy="222.6" r="1.36"/>
<circle cx="488.3" cy="223.2" r="1.36"/>
<circle cx="490.2" cy="224.5" r="1.36"/>
<circle cx="491.5" cy="226.3" r="1.36"/>
<circle cx="489" cy="230.4" r="1.36"/>
<circle cx="502.3" cy="227.3" r="1.36"/>
<circle cx="502.3" cy="238.2" r="1.36"/>
<path d="M397.5 166.9V246.7" stroke="#262626" stroke-width="1.3" fill="none"/>
<path d="M394.3 246.2H512.1" stroke="#262626" stroke-width="1.1" fill="none"/>
<path d="M394.3 233.5H397.5M394.3 220.5H397.5M394.3 208.5H397.5M394.3 195.5H397.5M394.3 182.5H397.5M394.3 170.5H397.5" stroke="#262626" stroke-width="1" fill="none"/>
<path d="M406.5 246.2V248.9M420.5 246.2V248.9M434.5 246.2V248.9M447.5 246.2V248.9M461.5 246.2V248.9M475.5 246.2V248.9M488.5 246.2V248.9M502.5 246.2V248.9" stroke="#3a3a3a" stroke-width="1" fill="none"/>
<text x="392.1" y="248.05" text-anchor="end" font-size="6.6" class="tl" textLength="8.35" lengthAdjust="spacingAndGlyphs">0.0</text>
<text x="392.1" y="235.35" text-anchor="end" font-size="6.6" class="tl" textLength="8.35" lengthAdjust="spacingAndGlyphs">0.5</text>
<text x="392.1" y="222.65" text-anchor="end" font-size="6.6" class="tl" textLength="8.35" lengthAdjust="spacingAndGlyphs">1.0</text>
<text x="392.1" y="209.95" text-anchor="end" font-size="6.6" class="tl" textLength="8.35" lengthAdjust="spacingAndGlyphs">1.5</text>
<text x="392.1" y="197.25" text-anchor="end" font-size="6.6" class="tl" textLength="8.35" lengthAdjust="spacingAndGlyphs">2.0</text>
<text x="392.1" y="184.55" text-anchor="end" font-size="6.6" class="tl" textLength="8.35" lengthAdjust="spacingAndGlyphs">2.5</text>
<text x="392.1" y="171.85" text-anchor="end" font-size="6.6" class="tl" textLength="8.35" lengthAdjust="spacingAndGlyphs">3.0</text>
<text x="406.6" y="258" text-anchor="middle" font-size="6.9" class="tl" font-style="italic" textLength="8.6" lengthAdjust="spacingAndGlyphs">4/7</text>
<text x="420.3" y="258" text-anchor="middle" font-size="6.9" class="tl" font-style="italic" textLength="8.6" lengthAdjust="spacingAndGlyphs">5/5</text>
<text x="434" y="258" text-anchor="middle" font-size="6.9" class="tl" font-style="italic" textLength="8.6" lengthAdjust="spacingAndGlyphs">5/6</text>
<text x="447.7" y="258" text-anchor="middle" font-size="6.9" class="tl" font-style="italic" textLength="8.6" lengthAdjust="spacingAndGlyphs">5/7</text>
<text x="461.4" y="258" text-anchor="middle" font-size="6.9" class="tl" font-style="italic" textLength="8.6" lengthAdjust="spacingAndGlyphs">5/9</text>
<text x="475.1" y="258" text-anchor="middle" font-size="6.9" class="tl" font-style="italic" textLength="8.6" lengthAdjust="spacingAndGlyphs">6/7</text>
<text x="488.8" y="258" text-anchor="middle" font-size="6.9" class="tl" font-style="italic" textLength="8.6" lengthAdjust="spacingAndGlyphs">7/7</text>
<text x="502.5" y="258" text-anchor="middle" font-size="6.9" class="tl" font-style="italic" textLength="8.6" lengthAdjust="spacingAndGlyphs">7/9</text>
<path d="M406.8 174.4H504.8" stroke="#4a4a4a" stroke-width="1.3" fill="none"/>
<text x="446" y="169.9" font-size="6.3" class="sg" textLength="18.2" lengthAdjust="spacingAndGlyphs">p=0.21</text>
<text x="428.75" y="269.5" font-size="8.8" class="xt" textLength="50.65" lengthAdjust="spacingAndGlyphs">CLEC4M VNTR</text>
<text transform="translate(377 207.2) rotate(-90)" x="-27.8" font-size="8.2" textLength="55.6" lengthAdjust="spacingAndGlyphs">VWFpp/VWF:Ag</text>
<text transform="translate(362.45 155) scale(0.88 1)" text-anchor="middle" font-size="11.7">F</text>
</svg>
<div class="b" style="left:0;top:0;width:1px;height:279px;background:#454545"></div>
<div class="b" style="left:1px;top:0;width:1px;height:279px;background:rgba(69,69,69,.55)"></div>
<div class="b" style="left:2px;top:0;width:1px;height:279px;background:rgba(69,69,69,.08)"></div>
<div class="b" style="left:0;top:0;width:520px;height:1px;background:#454545"></div>
<div class="b" style="left:0;top:1px;width:520px;height:1px;background:rgba(69,69,69,.5)"></div>
<div class="b" style="left:0;top:2px;width:520px;height:1px;background:rgba(69,69,69,.06)"></div>
<div class="b" style="left:519px;top:0;width:1px;height:279px;background:#141414"></div>
<div class="b" style="left:518px;top:0;width:1px;height:279px;background:rgba(20,20,20,.22)"></div>
<div class="b" style="left:0;top:278px;width:520px;height:1px;background:#3a3a3a"></div>
<div class="b" style="left:0;top:277px;width:520px;height:1px;background:rgba(58,58,58,.55)"></div>
<div class="b" style="left:0;top:276px;width:520px;height:1px;background:rgba(58,58,58,.12)"></div>
</body></html>
